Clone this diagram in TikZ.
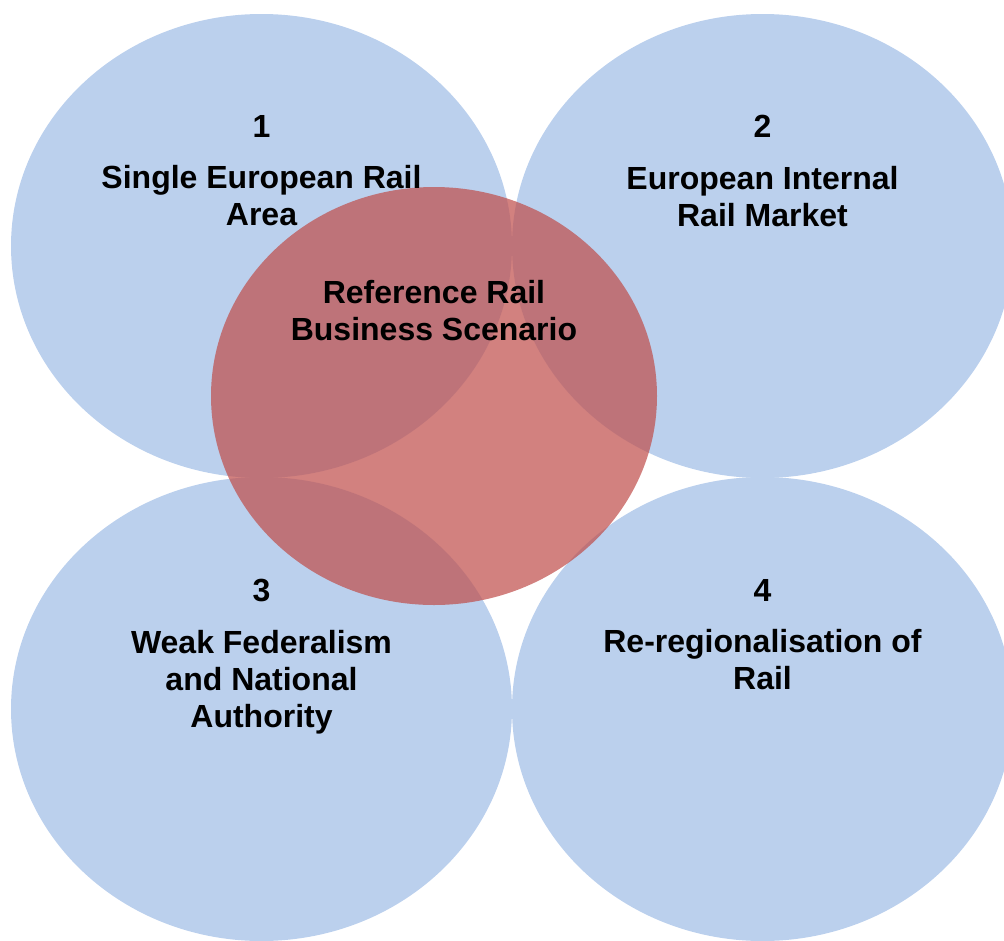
\documentclass[tikz,border=0pt]{standalone}
\usepackage{fontspec}
\setmainfont{Liberation Sans}
\usepackage{xcolor}
\definecolor{mylightblue}{RGB}{187,208,237}
\definecolor{myrosered}{RGB}{192,80,77}
\usepackage{tikz}
\usetikzlibrary{shapes.geometric}
\usetikzlibrary{positioning}
\newcommand{\widthregion}{501pt}
\newcommand{\heightregion}{464pt}
\tikzset{
    common/.style={ellipse, inner sep=0pt, minimum width=\widthregion, minimum height=\heightregion},
    region/.style={common, fill=mylightblue},
    scenario/.style={common, fill=myrosered, fill opacity=0.72, minimum width=446pt, minimum height=418pt},
    words/.style={font=\bfseries\fontsize{32}{37}\selectfont, align=center, inner sep=0pt, anchor=north},
    num/.style={words}
}

\begin{document}
\begin{tikzpicture}[x=1pt, y=-1pt]
    \useasboundingbox (0,0) rectangle (1004,940);
    \node[region] (r1) at (261.5,246) {};
    \node[region] (r2) at (762.5,246) {};
    \node[region] (r3) at (261.5,709) {};
    \node[region] (r4) at (762.5,709) {};
    \node[scenario] (sc) at (434,396) {};

    \node[num] (n1) at (r1 |- 0,115) {1};
    \node[words, below=28pt of n1] (t1) {Single European Rail\\Area};
    \node[num] (n2) at (r2 |- 0,115) {2};
    \node[words, below=28pt of n2] (t2) {European Internal\\Rail Market};
    \node[num] (n3) at (r3 |- 0,579) {3};
    \node[words, below=28pt of n3] (t3) {Weak Federalism\\and National\\Authority};
    \node[num] (n4) at (r4 |- 0,579) {4};
    \node[words, below=28pt of n4] (t4) {Re-regionalisation of\\Rail};
    \node[words] (t0) at (sc |- 0,280) {Reference Rail\\Business Scenario};
\end{tikzpicture}
\end{document}
